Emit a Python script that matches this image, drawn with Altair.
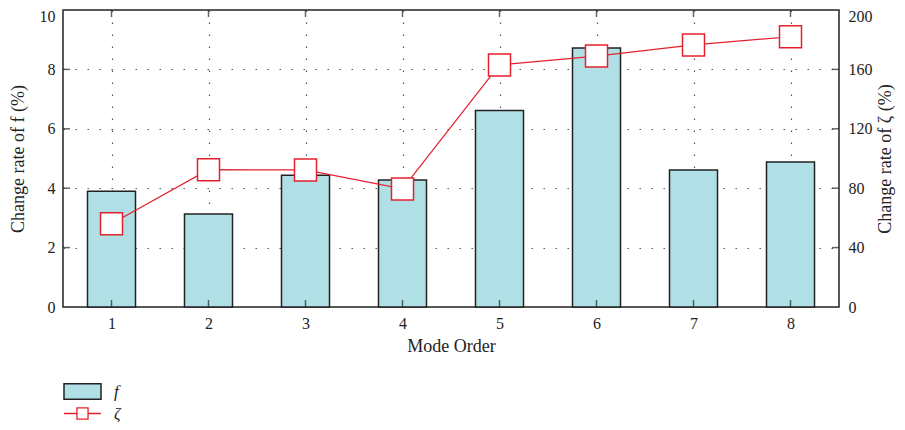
import altair as alt
import pandas as pd

# ---- data ----
modes = [1, 2, 3, 4, 5, 6, 7, 8]
f_rate = [3.90, 3.13, 4.44, 4.28, 6.62, 8.72, 4.61, 4.88]          # left axis (%)
zeta_rate = [56.0, 92.5, 92.3, 79.5, 163.0, 169.0, 176.5, 182.0]    # right axis (%)
x_ticks = [1, 2, 3, 4, 5, 6, 7, 8]
x_range = [0.5, 8.5]
left_ticks = [0, 2, 4, 6, 8, 10]
right_ticks = [0, 40, 80, 120, 160, 200]
inner_ticks = [2, 4, 6, 8]

FONT = "Liberation Serif"
RED = "#e4202c"
BLUE = "#b0e0e6"
DARK = "#222222"

bars_df = pd.DataFrame({"mode": modes, "val": f_rate, "s": ["f"] * len(modes)})
line_df = pd.DataFrame({"mode": modes, "val": zeta_rate, "s": ["ζ"] * len(modes)})
xt_df = pd.DataFrame({"mode": x_ticks})
lt_df = pd.DataFrame({"mode": [x_range[0]] * len(inner_ticks), "v": inner_ticks})
rt_df = pd.DataFrame({"mode": [x_range[1]] * len(inner_ticks), "v": inner_ticks})

xscale = alt.Scale(domain=x_range, nice=False, zero=False, padding=0)
lscale = alt.Scale(domain=[0, 10], nice=False, padding=0)
rscale = alt.Scale(domain=[0, 200], nice=False, padding=0)

grid_kw = dict(grid=True, gridDash=[1.5, 10.5], gridColor="#555555", gridWidth=1.2)

xaxis = alt.Axis(values=x_ticks, format="d", title="Mode Order", tickSize=0,
                 labelPadding=8, titlePadding=6, domain=False, **grid_kw)
X = alt.X("mode:Q", scale=xscale, axis=xaxis)

bars = alt.Chart(bars_df).mark_bar(size=48, stroke=DARK, strokeWidth=1.5).encode(
    x=X,
    y=alt.Y("val:Q", scale=lscale,
            axis=alt.Axis(values=left_ticks, title="Change rate of f (%)", tickSize=0,
                          labelPadding=8, titlePadding=12, domain=False,
                          labelOffset=alt.condition("datum.value == 10", alt.value(6), alt.value(0)),
                          **grid_kw)),
    fill=alt.Fill("s:N", scale=alt.Scale(domain=["f"], range=[BLUE]),
                  legend=alt.Legend(title=None, orient="none", legendX=0, legendY=362,
                                    symbolType="M-1,-0.42H1V0.42H-1Z", symbolSize=1369,
                                    symbolStrokeColor=DARK, symbolStrokeWidth=1.5,
                                    labelFont=FONT, labelFontSize=17, labelFontStyle="italic",
                                    labelColor=DARK, labelOffset=12)),
)

line = alt.Chart(line_df).mark_line(strokeWidth=1.2).encode(
    x=X,
    y=alt.Y("val:Q", scale=rscale,
            axis=alt.Axis(orient="right", values=right_ticks, title="Change rate of ζ (%)",
                          titleAngle=270, tickSize=0, labelPadding=9, titlePadding=22,
                          domain=False, grid=False,
                          labelOffset=alt.condition("datum.value == 200", alt.value(6), alt.value(0)))),
    stroke=alt.Stroke("s:N", scale=alt.Scale(domain=["ζ"], range=[RED]),
                      legend=alt.Legend(title=None, orient="none", legendX=0, legendY=384,
                                        symbolType="M-1,0H-0.3M0.3,0H1M-0.3,-0.3H0.3V0.3H-0.3Z",
                                        symbolSize=1369, symbolFillColor="white",
                                        symbolStrokeWidth=1.3,
                                        labelFont=FONT, labelFontSize=16, labelFontStyle="italic",
                                        labelColor=DARK, labelOffset=12)),
)

points = alt.Chart(line_df).mark_point(shape="square", size=484, filled=True, fill="white",
                                       stroke=RED, strokeWidth=1.5, opacity=1).encode(
    x=X,
    y=alt.Y("val:Q", scale=rscale, axis=None),
)

tick_kw = dict(color=DARK, thickness=1.5, size=7)
bottom_ticks = alt.Chart(xt_df).mark_tick(orient="vertical", yOffset=-3.5, **tick_kw).encode(
    x=X,
    y=alt.Y(datum=0, scale=lscale, axis=None),
)
top_ticks = alt.Chart(xt_df).mark_tick(orient="vertical", yOffset=3.5, **tick_kw).encode(
    x=X,
    y=alt.Y(datum=10, scale=lscale, axis=None),
)
left_inner = alt.Chart(lt_df).mark_tick(orient="horizontal", xOffset=3.5, **tick_kw).encode(
    x=X,
    y=alt.Y("v:Q", scale=lscale, axis=None),
)
right_inner = alt.Chart(rt_df).mark_tick(orient="horizontal", xOffset=-3.5, **tick_kw).encode(
    x=X,
    y=alt.Y("v:Q", scale=lscale, axis=None),
)

chart = alt.layer(
    bars, bottom_ticks, top_ticks, left_inner, right_inner, line, points
).resolve_scale(
    y="independent", fill="independent", stroke="independent"
).properties(
    width=776, height=297, autosize="none",
    padding={"left": 55, "top": 2, "right": 58, "bottom": 115},
).configure_view(
    stroke=DARK, strokeWidth=1.5
).configure_axis(
    labelFont=FONT, titleFont=FONT, labelFontSize=16, titleFontSize=18,
    labelColor=DARK, titleColor=DARK, titleFontWeight="normal",
)

chart.save("out.html", embed_options={"renderer": "svg", "actions": False})
